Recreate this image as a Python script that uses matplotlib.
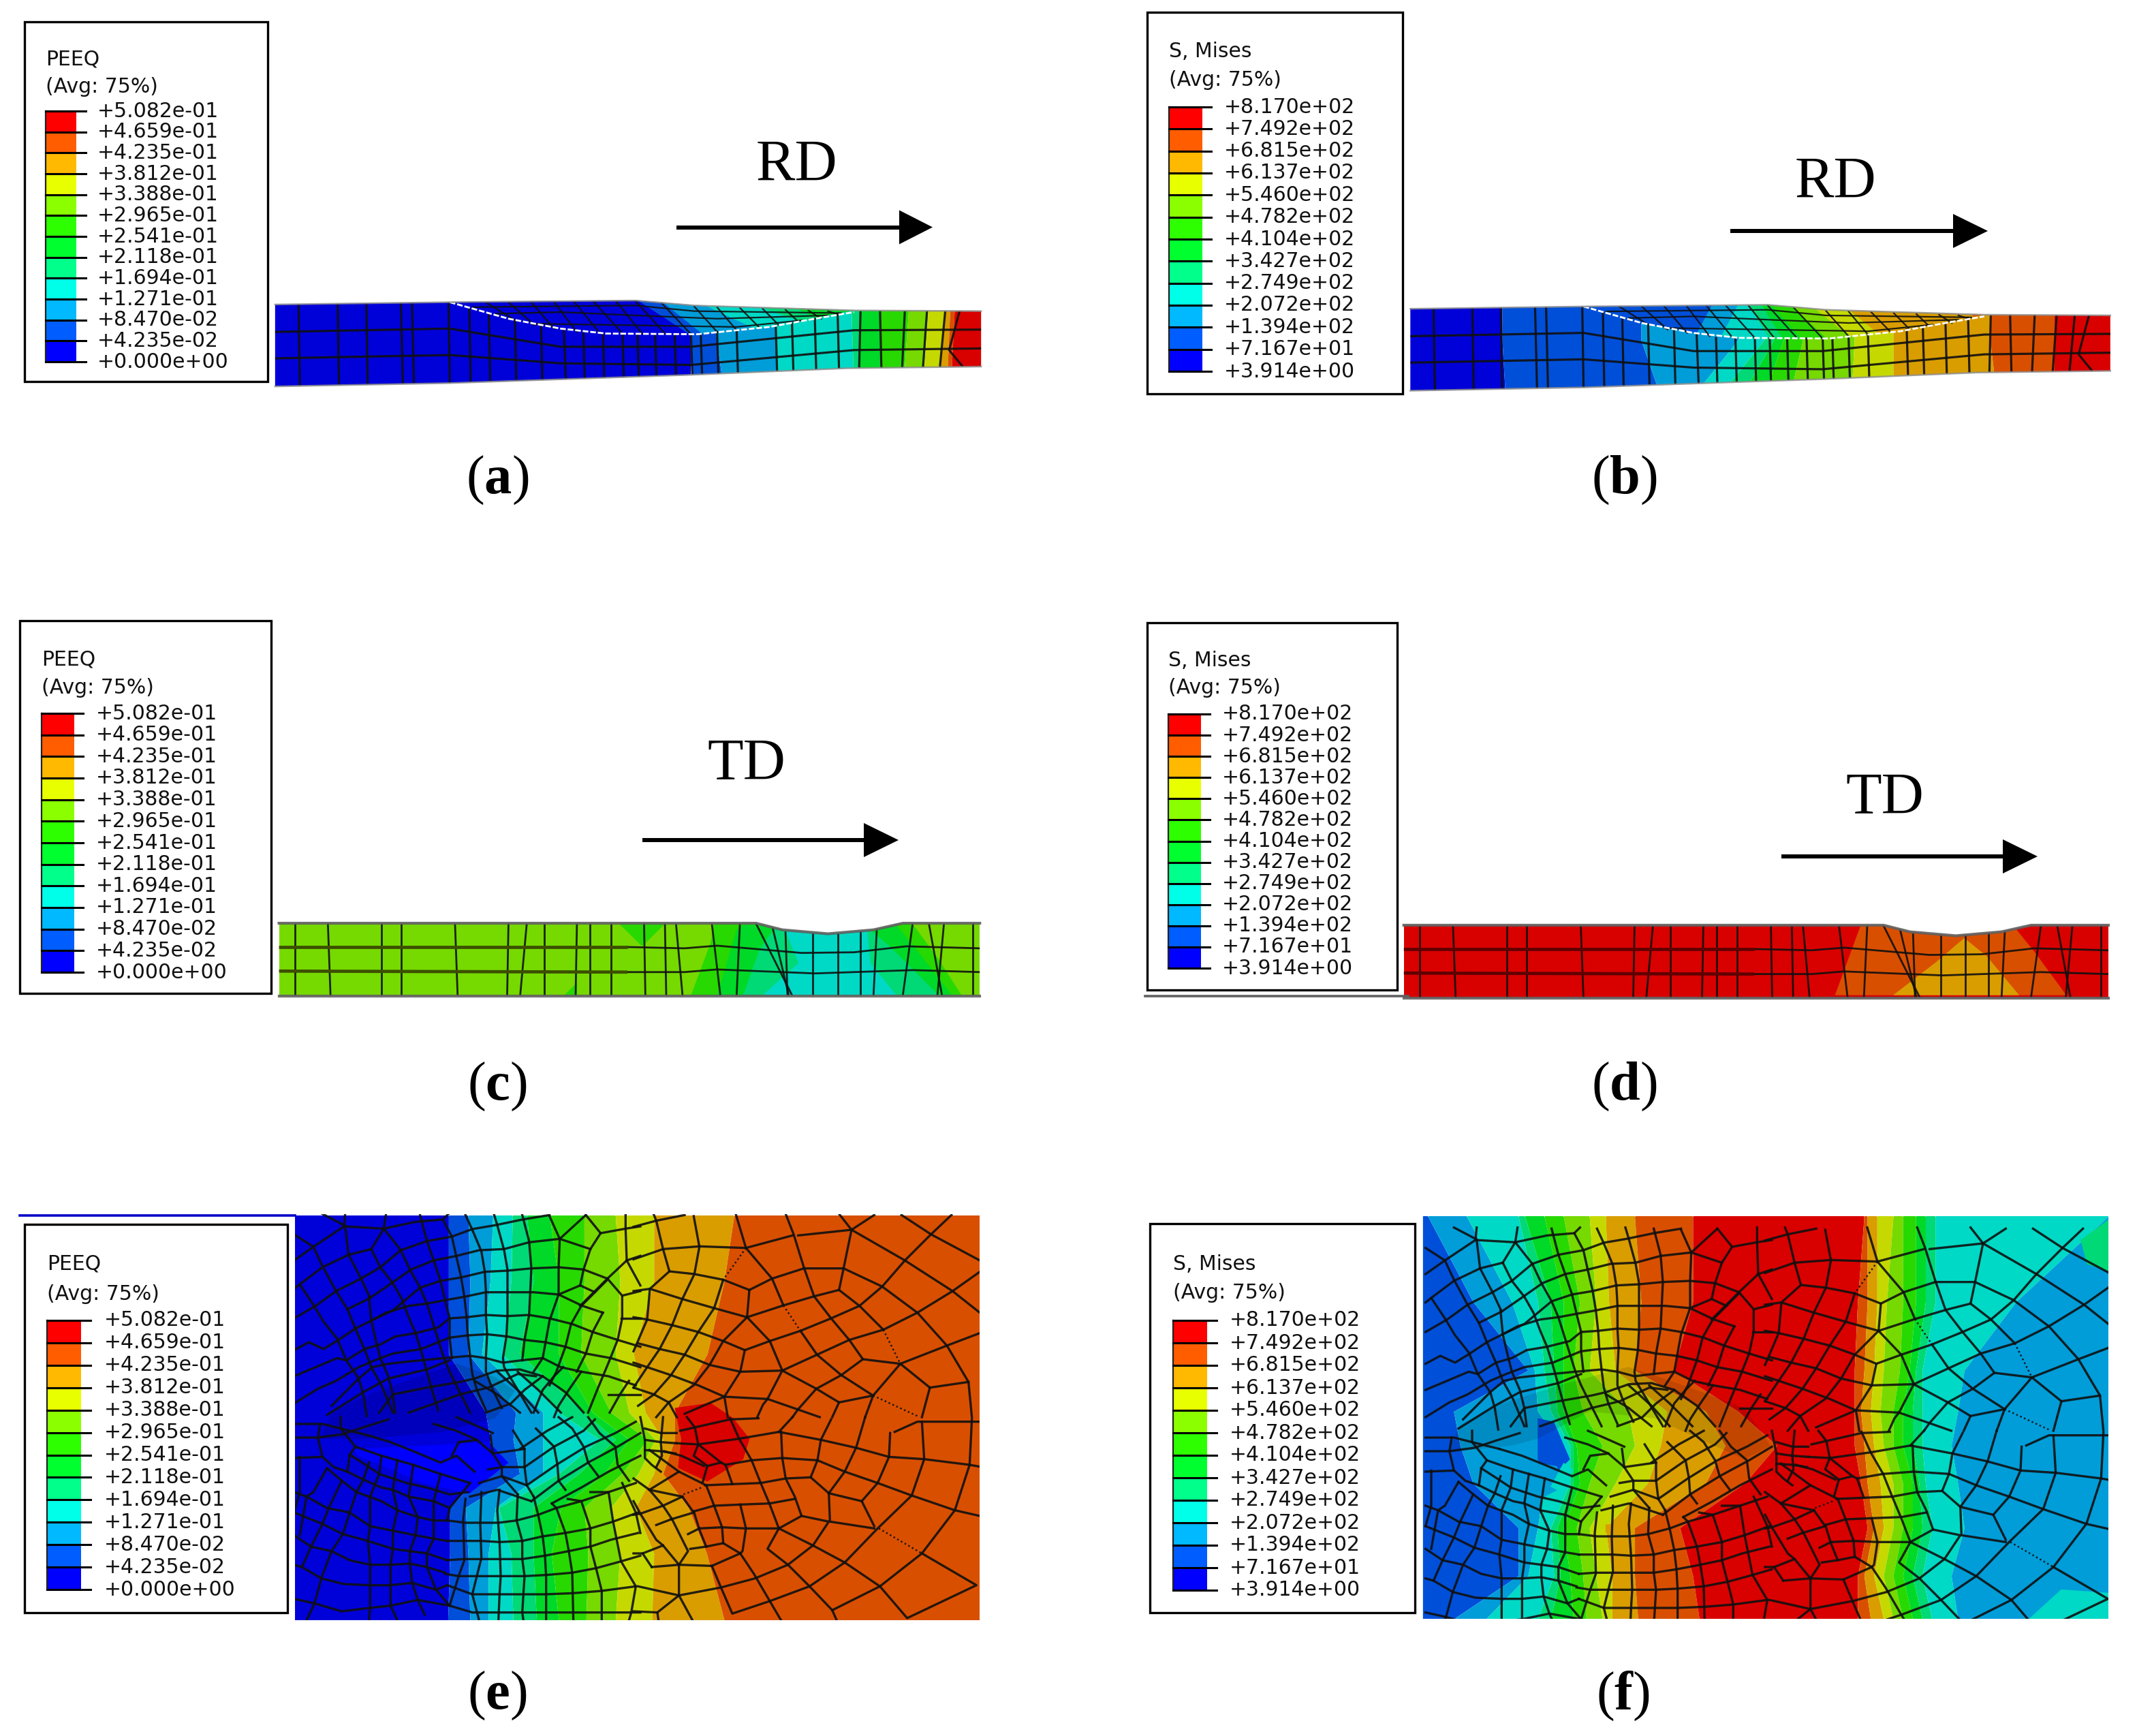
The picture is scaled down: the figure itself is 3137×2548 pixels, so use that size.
import numpy as np
import matplotlib
matplotlib.use('Agg')
import matplotlib.pyplot as plt
from matplotlib.patches import Polygon, Rectangle

plt.rcParams['mathtext.fontset'] = 'custom'
plt.rcParams['mathtext.rm'] = 'Liberation Serif'
plt.rcParams['mathtext.bf'] = 'Liberation Serif:bold'

# contour legend
LEGEND_COLORS = ['#0000FF', '#005DFF', '#00B9FF', '#00FFE8', '#00FF8B', '#00FF2E',
                 '#2EFF00', '#8BFF00', '#E8FF00', '#FFB900', '#FF5D00', '#FF0000']
PEEQ_LABELS = ['+5.082e-01', '+4.659e-01', '+4.235e-01', '+3.812e-01', '+3.388e-01',
               '+2.965e-01', '+2.541e-01', '+2.118e-01', '+1.694e-01', '+1.271e-01',
               '+8.470e-02', '+4.235e-02', '+0.000e+00']
MISES_LABELS = ['+8.170e+02', '+7.492e+02', '+6.815e+02', '+6.137e+02', '+5.460e+02',
                '+4.782e+02', '+4.104e+02', '+3.427e+02', '+2.749e+02', '+2.072e+02',
                '+1.394e+02', '+7.167e+01', '+3.914e+00']
SHADE = 0.85

# crops the shapes were read from: x0, y0, x scale, y scale
VIEW_A = (0, 0, 1.045, 2.063)
VIEW_B = (1650, 0, 1.054, 2.063)
VIEW_C = (0, 880, 1.045, 2.063)
VIEW_D = (1650, 880, 1.054, 2.063)
VIEW_D_MESH = (1649, 880, 1.0394, 2.063)
VIEW_E = (0, 1760, 1.045, 1.99)
VIEW_F = (1650, 1760, 1.054, 1.99)

# rolling direction strips (a, b)
RD_TOP = [(422,922),(690,915),(975,910),(1065,925),(1310,940),(1505,942)]
RD_BOTTOM = [(1505,1110),(1300,1115),(1060,1135),(690,1160),(422,1170)]
RD_UPPER = [(690,915),(975,910),(1065,925),(1310,940),(1180,990),(1070,1012),
            (930,1010),(860,995),(780,965)]
RD_DENT = [(690,915),(780,965),(860,995),(930,1010),(1070,1012),(1180,990),(1250,965),(1310,945)]
RD_LINES = [
    [(422,1005),(690,995),(860,1050),(1060,1050),(1310,1000),(1505,998)],
    [(422,1085),(690,1075),(860,1100),(1060,1105),(1310,1060),(1505,1055)],
    [(458,922),(460,1168)], [(518,920),(520,1166)], [(562,920),(564,1165)], [(615,918),(618,1163)],
    [(632,917),(635,1162)], [(688,915),(690,1160)], [(720,935),(722,1155)], [(750,955),(752,1153)],
    [(790,975),(792,1151)], [(830,990),(832,1149)], [(865,1000),(868,1148)], [(895,1010),(897,1146)],
    [(925,1012),(927,1145)], [(955,1012),(957,1143)], [(978,1012),(980,1142)], [(1005,1012),(1007,1140)],
    [(1035,1012),(1037,1137)], [(1060,1012),(1062,1135)], [(1075,1012),(1077,1132)], [(1100,1005),(1102,1130)],
    [(1130,1000),(1132,1128)], [(1190,985),(1192,1122)], [(1215,980),(1217,1120)], [(1250,965),(1252,1118)],
    [(1285,950),(1287,1115)], [(1320,945),(1318,1112)], [(1350,942),(1352,1110)], [(1388,942),(1384,1110)],
    [(1422,942),(1416,1110)], [(1450,942),(1442,1108)], [(1472,942),(1456,1060),(1476,1108)],
]
RD_UPPER_LINES = [
    [(725,930),(975,925),(1065,942),(1290,948)], [(760,950),(860,945),(975,955),(1100,965),(1270,955)],
    [(815,980),(975,985),(1130,990),(1230,970)],
    [(745,915),(790,970)], [(780,915),(820,985)], [(815,915),(850,995)], [(850,915),(885,1005)],
    [(880,912),(920,1008)], [(910,912),(955,1010)], [(945,912),(985,1010)], [(975,912),(1020,1010)],
    [(1015,918),(1060,1012)], [(1065,928),(1100,1005)], [(1100,930),(1130,1000)], [(1135,932),(1165,992)],
    [(1170,935),(1195,985)], [(1205,938),(1225,975)], [(1240,940),(1260,965)], [(1270,942),(1285,952)],
]
# y rows and x of each contour edge, blue to red
A_ROWS = [900, 1180]
A_EDGES = [[1060,1090,1190,1305,1320,1350,1395,1425,1450,1458,1465],
           [1060,1110,1190,1310,1320,1350,1385,1415,1440,1452,1458]]
A_UP_ROWS = [905, 1015]
A_UP_EDGES = [[975,1010,1060,1130,1190,1330,1400,1420,1440,1450,1460],
              [1060,1080,1180,1290,1310,1330,1400,1420,1440,1450,1460]]
B_ROWS = [900, 1030, 1200]
B_EDGES = [[585,800,950,990,1005,1020,1050,1130,1190,1340,1440],
           [585,800,950,990,1005,1020,1050,1130,1190,1340,1440],
           [590,830,880,920,955,990,1030,1125,1190,1350,1440]]
B_UP_ROWS = [920, 1030]
B_UP_EDGES = [[590,910,950,965,985,1000,1030,1060,1110,1300,1380],
              [590,880,920,1000,1020,1050,1090,1130,1180,1340,1440]]

# transverse strips (c, d)
TD_TOP = [(428,980),(1160,980),(1200,1000),(1270,1012),(1340,1000),(1385,980),(1503,980)]
TD_BOTTOM = [(1503,1200),(428,1200)]
TD_LINES = [
    [(452,982),(452,1198)], [(503,982),(507,1198)], [(585,982),(585,1198)], [(615,982),(615,1198)],
    [(698,982),(702,1198)], [(780,982),(778,1198)], [(808,982),(798,1198)], [(835,982),(835,1198)],
    [(885,982),(883,1198)], [(905,982),(905,1198)], [(937,982),(937,1198)], [(988,982),(990,1198)],
    [(1020,982),(1022,1198)], [(1037,982),(1047,1198)], [(1092,982),(1105,1198)], [(1135,982),(1130,1198)],
    [(1160,982),(1215,1198)], [(1185,992),(1210,1198)], [(1205,1008),(1208,1198)], [(1247,1012),(1247,1198)],
    [(1285,1012),(1285,1198)], [(1320,1005),(1320,1198)], [(1345,998),(1340,1198)], [(1400,982),(1385,1198)],
    [(1425,982),(1445,1198)], [(1448,982),(1438,1198)], [(1492,982),(1492,1198)],
    [(960,1052),(1050,1056),(1100,1048),(1230,1070),(1310,1068),(1390,1050),(1503,1056)],
    [(960,1128),(1050,1128),(1100,1120),(1250,1132),(1400,1122),(1503,1128)],
]
TD_THICK = [[(428,1052),(960,1052)], [(428,1125),(960,1128)]]
C_BASE = 7
C_PATCHES = [
    (6, [(1090,1040),(1060,1198),(1475,1198),(1440,1090),(1400,982),(1095,982)]),
    (6, [(950,982),(1020,982),(985,1050)]),
    (6, [(865,1198),(885,1198),(885,1160)]),
    (5, [(1130,1000),(1100,1198),(1460,1198),(1410,1070),(1375,985),(1140,985)]),
    (4, [(1165,1060),(1140,1198),(1440,1198),(1365,1050),(1335,1000),(1190,990)]),
    (3, [(1205,1005),(1225,1100),(1170,1198),(1375,1198),(1335,1100),(1330,1000)]),
]
D_BASE = 11
D_PATCHES = [
    (10, [(1140,985),(1100,1198),(1458,1198),(1410,1070),(1375,985)]),
    (9, [(1300,1025),(1255,1100),(1190,1198),(1385,1198),(1335,1080)]),
]

# contour edges of e, x at each row, blue to red
E_ROWS = [48, 239, 452, 623, 702, 802, 901, 1035, 1230]
E_EDGES = [
    [688,718,756,786,808,843,896,944,1003,1126],
    [688,721,752,784,818,857,896,951,1003,1111],
    [688,718,739,771,797,857,891,944,972,1085],
    [745,791,833,857,896,909,937,965,990,1035],
    [752,787,833,920,944,965,993,1005,1017,1035],
    [739,797,833,857,888,927,954,979,1003,1017],
    [690,714,760,765,818,860,896,937,975,1056],
    [690,718,749,784,818,846,902,951,1003,1084],
    [687,721,749,787,823,857,899,944,1000,1111],
]
E_PATCHES = [
    (11, [(1035,610),(1090,595),(1125,640),(1150,700),(1140,760),(1085,825),(1040,785),(1045,700)]),
]
E_DARK = [(490,700),(510,620),(580,560),(700,480),(760,520),(790,560),(760,640),(680,680),(560,700)]
E_BRIGHT = [(540,730),(650,720),(750,710),(780,770),(720,860),(650,830),(550,750)]

# contour edges of f, blue up to red and down again
F_SEQUENCE = [1,2,3,4,5,6,7,8,9,10,11,10,9,8,7,6,5,4,3,2]
F_ROWS = [50, 300, 500, 620, 720, 830, 960, 1100, 1226]
F_EDGES = [
    [470,530,610,620,650,680,720,745,790,880,1145,1150,1165,1190,1205,1225,1240,1255,1523],
    [540,600,640,660,680,705,730,750,800,880,1135,1150,1165,1180,1205,1225,1240,1255,1380],
    [625,635,650,665,680,695,720,760,790,850,1130,1145,1160,1175,1200,1215,1225,1235,1300],
    [510,640,660,670,680,710,780,840,900,950,1130,1140,1155,1170,1190,1205,1220,1235,1290],
    [520,680,690,695,700,740,790,830,930,1010,1130,1145,1160,1175,1190,1205,1220,1235,1280],
    [540,650,690,695,705,720,760,810,900,960,1140,1150,1170,1190,1205,1220,1230,1240,1290],
    [610,640,660,670,680,700,720,745,790,860,1150,1160,1175,1190,1205,1220,1235,1250,1300],
    [610,625,665,675,690,710,730,755,790,880,1135,1145,1160,1175,1190,1205,1220,1235,1280],
    [510,560,640,660,695,715,740,755,795,890,1135,1155,1175,1190,1205,1220,1235,1250,1290],
]
F_PATCHES = [
    (1, [(640,640),(665,650),(690,760),(655,825),(640,760)]),
    (2, [(610,760),(670,780),(680,840),(640,880),(590,840)]),
    (3, [(680,770),(695,790),(680,860),(660,840)]),
    (9, [(745,950),(780,950),(775,975),(745,975)]),
    (4, [(1480,120),(1523,60),(1523,210),(1490,190)]),
    (3, [(1400,1226),(1450,1140),(1523,1150),(1523,1226)]),
]
F_DARK = [(500,740),(520,660),(580,600),(680,540),(780,490),(860,540),(960,610),(1000,720),
          (960,760),(820,640),(720,620),(640,700),(600,720)]

# mesh of the plan views e and f, one list per quarter, crop pixels at 3x
MESH_UL = [
    [(5,95),(90,150),(130,235),(190,345),(240,425),(275,510),(315,600),(345,680),(390,760),(440,880)],
    [(30,315),(90,405),(135,480),(195,555),(235,650),(290,730),(310,800),(325,895)],
    [(335,370),(345,475),(360,540),(385,640),(420,720),(440,800),(450,880)],
    [(245,185),(300,290),(340,375)],
    [(345,160),(385,240),(440,310),(480,380),(510,460),(540,530),(565,610),(590,700),(615,790),(640,870)],
    [(475,165),(515,250),(560,330),(590,400),(615,480),(640,560),(665,640),(690,700),(735,790),(780,880)],
    [(560,10),(590,125),(620,210),(650,300),(670,385),(690,465),(690,550),(700,640)],
    [(660,30),(700,105),(720,195),(740,280),(755,370),(765,460),(770,540),(780,630),(790,710),(810,780),(850,870)],
    [(760,10),(790,75),(830,170),(845,260),(850,345),(850,450),(855,535),(850,630),(850,700),(880,780),(920,860)],
    [(885,5),(900,55),(930,165),(945,250),(945,350),(945,455),(940,545),(925,640),(930,680),(990,780),(1050,880)],
    [(1010,10),(1040,125),(1050,245),(1045,350),(1040,450),(1020,560),(1010,650)],
    [(1130,15),(1175,115),(1170,240),(1170,360),(1130,475),(1100,640),(1060,700)],
    [(130,5),(225,55)], [(90,150),(225,60),(230,5)], [(225,60),(400,70),(410,5)], [(400,70),(540,40),(660,30),(685,5)],
    [(230,60),(245,185)], [(5,210),(90,150)], [(400,70),(345,160)], [(400,70),(475,165)],
    [(5,335),(30,315),(130,240),(245,185),(345,160)],
    [(5,465),(100,410),(190,345),(300,290),(385,240),(475,165),(590,125),(700,105),(790,72),(890,55),(1010,30),(1130,10)],
    [(240,425),(340,375),(420,320),(520,250),(620,210),(720,190),(820,165),(930,160),(1040,130),(1175,115),(1310,160)],
    [(275,510),(345,475),(440,430),(560,330),(650,300),(740,285),(845,260),(945,255),(1050,245),(1170,240),(1280,250),(1385,290)],
    [(5,605),(70,570),(135,600),(200,560),(275,510)],
    [(345,475),(410,440),(510,410),(590,400),(670,385),(755,370),(850,350),(945,350),(1060,350),(1170,360),(1275,410),(1365,440)],
    [(5,720),(100,680),(195,640),(235,650),(315,600),(385,580),(450,545),(540,530),(640,505),(690,465),(765,460),(850,450),(945,455),(1040,450),(1130,465),(1230,490),(1320,525),(1430,560),(1530,590)],
    [(5,840),(110,775),(190,740),(290,680),(360,650),(440,620),(565,600),(690,550),(770,540),(855,535),(945,545),(1020,560),(1110,570),(1200,590),(1290,620),(1400,640),(1530,680)],
    [(170,850),(290,730),(350,680),(420,665),(510,655),(665,640),(780,630),(850,640),(925,660),(1005,650),(1100,640),(1180,680),(1270,700),(1390,720),(1510,760)],
    [(150,890),(310,790),(420,730),(590,690),(690,650)],
    [(380,880),(440,800),(590,770),(735,745),(800,730),(900,695),(1000,690),(1100,720),(1200,790),(1280,880)],
    [(510,880),(735,800),(860,770),(990,710),(1070,720)],
    [(850,880),(960,840),(1020,780),(1100,720)],
    [(800,740),(900,800),(1000,880)], [(900,700),(1000,790),(1080,880)], [(990,700),(1080,780),(1180,880)],
    [(1190,680),(1150,720),(1100,780),(1060,880)], [(1270,700),(1215,780),(1170,850),(1150,900)],
    [(1175,115),(1290,10)], [(1290,10),(1355,90),(1310,160),(1280,250),(1265,320),(1170,360)],
    [(1355,90),(1465,70),(1530,60)], [(1465,5),(1465,70),(1470,210),(1385,290),(1265,410)],
    [(1470,210),(1530,190)], [(1470,210),(1530,320)], [(1385,290),(1450,365),(1530,345)],
    [(1265,320),(1330,350),(1385,295)], [(1330,350),(1270,410),(1225,490),(1200,590),(1160,700),(1130,760)],
    [(1450,370),(1450,465),(1430,560),(1390,660),(1340,780),(1300,880)],
    [(1365,440),(1320,525),(1290,620),(1250,700)], [(1445,465),(1530,465)],
    [(1390,800),(1530,800)], [(1480,740),(1440,800),(1395,880)],
]
MESH_UR = [
    [(0,62),(100,35),(225,10)], [(88,5),(100,35),(130,160),(158,258),(72,335),(60,470),(0,610)],
    [(265,15),(290,150),(268,270),(215,380),(170,495),(115,600),(60,680),(0,770)],
    [(0,205),(130,160),(290,148),(495,155),(700,100)], [(725,100),(960,75),(1060,10)],
    [(450,5),(495,155),(610,290),(660,408)], [(735,520),(808,625),(915,715),(1055,805)],
    [(670,5),(705,95),(750,240),(795,368),(870,465),(950,560),(1010,645),(915,715),(805,775),(725,865),(700,900)],
    [(905,5),(960,75),(1195,210),(1405,345),(1525,440)], [(960,75),(925,245),(905,340)],
    [(750,245),(925,245),(1095,325),(1250,440),(1380,585),(1475,745),(1490,900)],
    [(510,340),(610,290),(750,245)], [(395,295),(510,340),(500,460)],
    [(158,258),(268,270),(395,295),(355,420),(285,525),(225,625),(165,715),(90,800),(20,850)],
    [(0,345),(72,335),(215,380),(355,420),(500,460),(660,408),(795,368),(905,340),(995,410),(1100,515)],
    [(1175,665),(1305,770),(1270,900)],
    [(1195,210),(1095,325),(995,410),(870,465),(735,520),(600,565),(490,605),(395,565),(285,525),(170,495),(60,470),(0,460)],
    [(1180,10),(1310,95),(1525,210)], [(1400,10),(1310,95),(1195,210)],
    [(1525,260),(1405,345),(1250,440),(1100,515),(950,560),(808,625),(655,695),(470,700),(335,670),(225,625),(115,600),(20,575)],
    [(500,460),(395,565),(335,670),(265,760),(155,835),(100,900)],
    [(500,460),(600,565),(655,695),(805,775),(905,835),(875,900)],
    [(490,605),(470,700),(400,810),(225,885)],
    [(1525,530),(1380,585),(1175,665),(1055,805),(1020,900)], [(1010,645),(1175,665)],
    [(655,695),(590,820),(400,810),(285,760),(165,715),(60,680),(0,660)],
    [(590,820),(720,865),(820,900)], [(590,820),(570,845),(545,900)], [(905,835),(1055,805)],
    [(400,810),(415,900)], [(1305,770),(1475,745)], [(0,770),(90,800),(155,835),(190,900)],
]
MESH_UR_DOTTED = [[(1100,515),(1175,665)], [(1055,805),(1250,895)], [(660,408),(735,520)], [(495,155),(395,295)]]
MESH_LL = [
    [(680,455),(760,465),(830,465),(905,465),(985,455),(1080,430),(1160,400),(1270,370),(1390,330),(1510,290)],
    [(680,545),(760,545),(830,545),(910,550),(1010,545),(1100,525),(1200,510),(1310,490),(1410,460),(1520,420)],
    [(680,630),(750,625),(830,625),(915,625),(1010,625),(1110,610),(1215,590),(1310,570),(1400,540),(1520,510)],
    [(670,690),(730,700),(810,700),(915,700),(1020,700),(1115,695),(1230,685),(1335,665),(1445,635),(1530,610)],
    [(680,740),(790,780),(910,780),(1010,780),(1115,780),(1235,775),(1360,765),(1510,745)],
    [(690,830),(790,860),(905,860),(1010,860),(1115,860),(1235,860),(1360,860),(1490,860),(1530,860)],
    [(760,360),(750,450),(755,630),(730,700),(690,830)], [(830,330),(825,470),(830,620),(810,700),(790,780),(820,895)],
    [(910,320),(900,410),(910,550),(915,700),(910,780),(905,895)],
    [(990,340),(985,455),(1010,545),(1010,625),(1020,700),(1010,860),(1015,895)],
    [(1060,350),(1080,430),(1100,525),(1110,610),(1115,700),(1115,895)],
    [(1140,380),(1160,400),(1200,510),(1215,590),(1230,685),(1235,895)],
    [(1210,360),(1270,370),(1310,490),(1310,570),(1335,665),(1360,765),(1360,895)],
    [(1310,330),(1390,330),(1410,460),(1445,635),(1510,745),(1490,860),(1480,895)], [(1450,290),(1510,420),(1530,510)],
    [(5,520),(80,570),(170,590),(250,630),(340,650),(430,650),(515,645),(590,660),(670,685)],
    [(5,650),(40,660),(125,710),(225,735),(340,740),(430,740),(525,730),(630,760),(680,740)],
    [(5,800),(95,820),(215,855),(340,840),(430,830),(550,805),(690,830)],
    [(5,420),(130,470),(220,515),(330,545),(440,580),(515,590),(590,600),(680,630)],
    [(5,330),(60,350),(150,400),(250,420),(340,480),(440,500),(540,520),(620,535),(680,545)],
    [(150,225),(215,280),(280,330),(390,370),(460,410),(550,440),(620,455),(680,455)],
    [(240,240),(310,275),(390,310),(440,320),(510,350),(620,370),(690,400)],
    [(250,165),(320,210),(380,250),(500,290),(590,310),(690,340),(770,330)],
    [(275,130),(390,170),(460,190),(530,210),(650,250),(780,290)],
    [(330,80),(430,110),(530,150),(650,200),(720,170),(800,240)],
    [(5,90),(110,90),(220,75),(310,45),(420,10)], [(5,180),(130,175),(180,220),(240,240)],
    [(120,30),(110,90),(130,175)], [(30,175),(30,330),(5,420)],
    [(150,225),(90,330),(60,350),(30,520)], [(80,570),(40,660)],
    [(215,280),(160,395),(130,470),(80,570)], [(280,330),(250,420),(220,515),(170,590),(125,710),(95,820),(60,895)],
    [(335,200),(310,275),(280,330)], [(390,170),(380,250),(340,350),(340,480),(330,545),(340,650),(340,740),(340,840),(335,895)],
    [(460,190),(440,320),(460,410),(440,500),(440,580),(430,650),(430,740),(430,830),(460,895)],
    [(530,210),(510,350),(550,440),(540,520),(515,590),(515,645),(525,730),(550,805),(580,870)],
    [(650,250),(620,370),(620,455),(620,535),(590,600),(590,660),(630,760),(690,830)],
    [(780,290),(690,400),(680,455)], [(5,30),(130,30),(210,50),(330,80)], [(210,0),(210,50),(275,130),(250,165),(240,240)],
    [(620,30),(720,60),(810,100),(880,160)], [(720,0),(790,30),(880,70)], [(700,170),(730,110),(810,100)],
    [(1000,140),(1120,60),(1230,0)], [(1020,220),(1150,130),(1280,60),(1330,10)],
    [(1030,300),(1160,210),(1290,130),(1420,70),(1510,20)], [(1050,370),(1170,280),(1300,200),(1430,130),(1530,70)],
    [(1140,380),(1270,310),(1390,240),(1530,170)],
    [(1070,50),(1150,130),(1165,210),(1170,280),(1200,320)], [(1170,0),(1230,50),(1280,130),(1300,200),(1345,260)],
    [(1300,0),(1350,70),(1420,130),(1430,210),(1480,280)], [(970,60),(1020,140),(1020,220),(1030,300),(1060,350)],
    [(870,80),(880,160),(920,220),(920,260),(990,340)], [(880,160),(1020,140)], [(860,230),(920,220),(1020,220)],
    [(820,290),(920,260),(1030,300)], [(780,350),(900,320),(1050,370)],
]
MESH_LR = [
    [(205,60),(270,45),(425,10),(550,5)], [(235,0),(270,45),(285,120),(265,170),(325,215),(305,285)],
    [(425,5),(465,95),(520,190),(560,290),(600,385),(640,490),(590,580),(680,650),(775,745),(875,850),(895,895)],
    [(190,115),(285,120),(465,95),(640,65),(825,100),(980,135),(1125,175),(1280,185),(1480,210),(1525,218)],
    [(650,65),(655,180),(670,270),(710,350),(740,435),(640,490)],
    [(520,190),(655,180),(810,190),(930,240),(1075,290),(1225,345),(1415,410),(1525,435)],
    [(700,0),(640,65)], [(870,10),(825,100),(810,190),(780,265),(860,335),(1005,370),(1060,480)],
    [(1020,0),(980,135),(930,240),(860,335)], [(780,265),(670,270),(560,290),(435,295),(315,300)],
    [(1130,70),(1125,175),(1075,290),(1005,370)], [(1150,65),(1250,20),(1525,20)],
    [(1270,20),(1280,185),(1225,345),(1075,490),(930,640),(775,745),(600,810),(435,865),(385,750),(345,655)],
    [(1490,10),(1480,210),(1415,410),(1270,600),(1085,745),(875,850)],
    [(1270,600),(1510,740),(1205,885),(1085,745),(930,640),(790,565),(640,490)],
    [(860,335),(865,460),(1060,490)], [(740,435),(860,460),(790,565),(680,650),(535,710),(385,750),(200,785),(20,745)],
    [(320,300),(355,390),(390,485),(395,555),(470,600),(530,690),(600,810),(650,895)],
    [(265,415),(355,390),(470,385),(600,380),(710,360)], [(470,385),(495,490),(480,590),(470,600)],
    [(290,490),(390,485),(495,490),(640,490)], [(265,415),(290,495),(320,570),(395,555)], [(250,580),(320,570)],
    [(345,655),(470,600)], [(80,660),(200,650),(345,655)], [(200,650),(200,785),(260,895)], [(200,785),(105,860)],
    [(0,855),(105,860),(110,895)], [(200,650),(240,590),(170,450),(130,390),(70,320),(0,270)],
    [(215,350),(265,420)], [(215,350),(130,390),(30,425),(0,430)], [(165,450),(265,420)], [(100,475),(165,450)],
    [(240,515),(290,490)], [(0,600),(40,600),(130,565)], [(0,370),(30,425),(100,540),(130,565),(200,650)],
    [(40,600),(80,660)], [(70,320),(200,240),(320,300)], [(70,145),(200,240)], [(70,320),(215,350)],
    [(135,150),(210,170),(310,215)], [(385,200),(325,215)], [(285,120),(385,200),(405,210),(435,295)], [(405,210),(520,190)],
    [(50,50),(120,70),(190,70)], [(50,100),(120,110),(190,115)], [(50,145),(120,150),(185,160)],
    [(30,0),(50,100),(50,180),(80,210),(120,240)], [(130,0),(120,110),(125,170),(100,220)],
]
MESH_LR_DOTTED = [[(1080,490),(1270,600)], [(220,340),(300,310)]]
TILE_ORIGINS = {'ul': (430,1780), 'ur': (930,1780), 'll': (430,2080), 'lr': (930,2080)}
TILES = {'ul': MESH_UL, 'ur': MESH_UR, 'll': MESH_LL, 'lr': MESH_LR}
DOTTED = {'ur': MESH_UR_DOTTED, 'lr': MESH_LR_DOTTED}


def to_px(points, view, dx=0, dy=0):
    pts = np.array(points, dtype=float)
    return np.c_[view[0] + (pts[:,0]+dx)/view[2], view[1] + (pts[:,1]+dy)/view[3]]


def band_color(i):
    rgb = np.array(matplotlib.colors.to_rgb(LEGEND_COLORS[i]))
    return tuple(rgb*SHADE)


def draw_bands(rows, edges, seq, view, clip, xlo, xhi, dx=0, dy=0):
    # one filled band between neighbouring contour edges
    edges = np.array(edges, dtype=float)
    left = np.c_[np.full(len(rows), xlo), edges]
    right = np.c_[edges, np.full(len(rows), xhi)]
    ys = view[1] + (np.array(rows, dtype=float)+dy)/view[3]
    for k, b in enumerate(seq):
        a1 = view[0] + (left[:,k]+dx)/view[2]
        a2 = view[0] + (right[:,k]+dx)/view[2]
        f = ax.fill_betweenx(ys, a1, a2, color=band_color(b), lw=0, zorder=2)
        f.set_clip_path(clip)


def make_clip(points, view, dx=0, dy=0):
    p = Polygon(to_px(points, view, dx, dy), closed=True, fill=False, lw=0)
    ax.add_patch(p)
    return p


def draw_lines(lines, view, clip, dx=0, dy=0, lw=2.3, color='#101010', alpha=0.9, ls='-'):
    for line in lines:
        xy = to_px(line, view, dx, dy)
        l, = ax.plot(xy[:,0], xy[:,1], color=color, lw=lw, alpha=alpha, ls=ls, zorder=4,
                     solid_joinstyle='round')
        if clip is not None:
            l.set_clip_path(clip)


def draw_legend(box, swatch, label_x, title_ys, title, labels):
    x0, y0, x1, y1 = box
    ax.add_patch(Rectangle((x0,y0), x1-x0, y1-y0, fc='white', ec='black', lw=2.4, zorder=6))
    sx0, sx1, tick, top, bot = swatch
    ys = np.linspace(top, bot, 13)
    for i in range(12):
        ax.add_patch(Rectangle((sx0,ys[i]), sx1-sx0, ys[i+1]-ys[i], fc=LEGEND_COLORS[11-i], lw=0, zorder=7))
    ax.plot([sx0,sx0],[top,bot], color='#222222', lw=1.6, zorder=8)
    for y, lab in zip(ys, labels):
        ax.plot([sx0,tick],[y,y], color='black', lw=2.2, zorder=8)
        ax.text(label_x, y, lab, fontsize=21.5, family='DejaVu Sans', va='center', ha='left',
                color='#111111', zorder=8)
    ax.text(sx0, title_ys[0]+2, title, fontsize=21.5, family='DejaVu Sans', va='center', color='#111111', zorder=8)
    ax.text(sx0, title_ys[1]+2, '(Avg: 75%)', fontsize=21.5, family='DejaVu Sans', va='center', color='#111111', zorder=8)


def draw_arrow(x0, x1, tip, y, name, tx, ty):
    ax.plot([x0,x1],[y,y], color='black', lw=4.3, solid_capstyle='butt', zorder=5)
    ax.add_patch(Polygon([(x1,y-25),(tip,y),(x1,y+25)], closed=True, fc='black', lw=0, zorder=5))
    ax.text(tx, ty+6, name, fontsize=62, family='Liberation Serif', ha='center', va='center', zorder=5)


def caption(x, y, letter):
    ax.text(x, y+3, '(' + r'$\mathbf{' + letter + '}$' + ')', fontsize=58, family='Liberation Serif',
            ha='center', va='center', zorder=5)


def draw_plan_mesh(clip, dx, dy):
    for key, lines in TILES.items():
        ox, oy = TILE_ORIGINS[key]
        view = (ox+dx, oy+dy, 3.0, 3.0)
        draw_lines(lines, view, clip, lw=2.4)
        if key in DOTTED:
            draw_lines(DOTTED[key], view, clip, lw=1.8, ls=(0,(1,1.5)))


def draw_rd_strip(view, shift, rows, edges, up_rows, up_edges, xhi):
    clip = make_clip(RD_TOP + RD_BOTTOM, view, *shift)
    draw_bands(rows, edges, range(12), view, clip, 400, xhi)
    clip_up = make_clip(RD_UPPER, view, *shift)
    draw_bands(up_rows, up_edges, range(12), view, clip_up, 680, xhi)
    draw_lines(RD_LINES, view, clip, *shift)
    draw_lines(RD_UPPER_LINES, view, clip, *shift, lw=1.6)
    draw_lines([RD_DENT], view, clip, *shift, lw=2.0, color='white', alpha=1, ls=(0,(3,1)))
    draw_lines([RD_TOP, RD_BOTTOM], view, None, *shift, lw=1.8, color='#8c8c8c', alpha=0.8)


def draw_td_strip(view_mesh, shift, view_patch, base, patches, thick_color):
    clip = make_clip(TD_TOP + TD_BOTTOM, view_mesh, *shift)
    draw_bands([970,1210], [[428],[428]], [base,base], view_mesh, clip, 428, 1503, *shift)
    for b, pts in patches:
        p = Polygon(to_px(pts, view_patch), closed=True, fc=band_color(b), lw=0, zorder=3)
        ax.add_patch(p)
        p.set_clip_path(clip)
    draw_lines(TD_LINES, view_mesh, clip, *shift, lw=2.0)
    draw_lines(TD_THICK, view_mesh, clip, *shift, lw=3.4, color=thick_color, alpha=1)
    draw_lines([TD_TOP, TD_BOTTOM], view_mesh, None, *shift, lw=3.0, color='#606060', alpha=0.9)


fig = plt.figure(figsize=(31.37, 25.48), dpi=100)
ax = fig.add_axes([0,0,1,1])
ax.set_xlim(0,3137)
ax.set_ylim(2548,0)
ax.axis('off')

# (a)
draw_rd_strip(VIEW_A, (0,0), A_ROWS, A_EDGES, A_UP_ROWS, A_UP_EDGES, 1510)
draw_legend((36,32,393,560), (67,112,126,163,531), 143, (85,125), 'PEEQ', PEEQ_LABELS)
draw_arrow(993,1320,1369,333.5,'RD',1169,238)
caption(730,702,'a')

# (b) same mesh as (a), slightly shifted
draw_rd_strip(VIEW_B, (21,13), B_ROWS, B_EDGES, B_UP_ROWS, B_UP_EDGES, 1530)
draw_legend((1684,18,2059,578), (1716,1765,1778,157,545), 1797, (74,115), 'S, Mises', MISES_LABELS)
draw_arrow(2540,2867,2918,339,'RD',2694,263)
caption(2384,702,'b')

# (c)
draw_td_strip(VIEW_C, (0,0), VIEW_C, C_BASE, C_PATCHES, '#3c5000')
draw_legend((29,911,398,1458), (61,109,122,1047,1427), 141, (966,1007), 'PEEQ', PEEQ_LABELS)
draw_arrow(943,1268,1319,1233,'TD',1096,1116)
caption(730,1592,'c')

# (d)
draw_td_strip(VIEW_D_MESH, (0,6), VIEW_D, D_BASE, D_PATCHES, '#600000')
xy = to_px([(33,1201),(440,1201)], VIEW_D)
ax.plot(xy[:,0], xy[:,1], color='#606060', lw=2.6, zorder=4)
draw_legend((1684,914,2051,1453), (1715,1763,1776,1048,1421), 1794, (968,1008), 'S, Mises', MISES_LABELS)
draw_arrow(2615,2940,2991,1257,'TD',2767,1166)
caption(2384,1592,'d')

# (e)
rect_e = [(452,44),(1503,44),(1503,1230),(452,1230)]
clip = make_clip(rect_e, VIEW_E)
draw_bands(E_ROWS, E_EDGES, range(11), VIEW_E, clip, 452, 1503)
for b, pts in E_PATCHES:
    ax.add_patch(Polygon(to_px(pts, VIEW_E), closed=True, fc=band_color(b), lw=0, zorder=3))
ax.add_patch(Polygon(to_px(E_BRIGHT, VIEW_E), closed=True, fc='#0000FF', lw=0, zorder=3))
ax.add_patch(Polygon(to_px(E_DARK, VIEW_E), closed=True, fc='black', alpha=0.13, lw=0, zorder=3))
draw_plan_mesh(clip, 0, 0)
xy = to_px([(30,47),(452,47)], VIEW_E)
ax.plot(xy[:,0], xy[:,1], color='#0000C8', lw=2.6, zorder=4)
draw_legend((36,1797,422,2367), (69,119,133,1938,2333), 153, (1853,1897), 'PEEQ', PEEQ_LABELS)
caption(730,2486,'e')

# (f) same mesh as (e)
rect_f = [(462,50),(1523,50),(1523,1226),(462,1226)]
clip = make_clip(rect_f, VIEW_F)
draw_bands(F_ROWS, F_EDGES, F_SEQUENCE, VIEW_F, clip, 462, 1523)
for b, pts in F_PATCHES:
    p = Polygon(to_px(pts, VIEW_F), closed=True, fc=band_color(b), lw=0, zorder=3)
    ax.add_patch(p)
    p.set_clip_path(clip)
ax.add_patch(Polygon(to_px(F_DARK, VIEW_F), closed=True, fc='black', alpha=0.1, lw=0, zorder=3))
draw_plan_mesh(clip, 1661, 20)
draw_legend((1688,1796,2077,2367), (1722,1772,1786,1938,2334), 1805, (1853,1896), 'S, Mises', MISES_LABELS)
caption(2382,2486,'f')

fig.savefig('out.png', dpi=100)
